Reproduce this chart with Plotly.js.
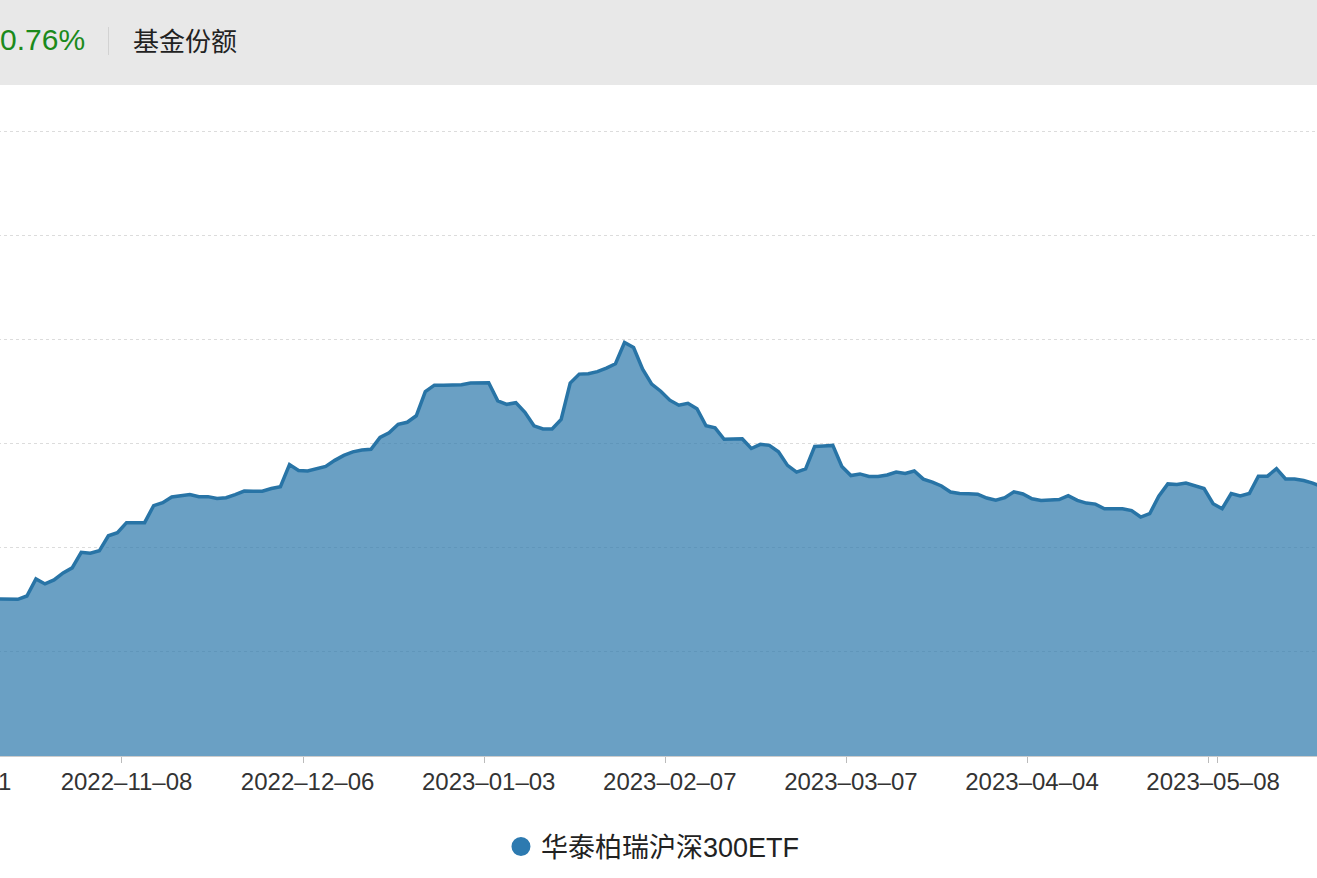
<!DOCTYPE html>
<html>
<head>
<meta charset="utf-8">
<script src="https://cdn.plot.ly/plotly-3.0.1.min.js"></script>
<style>
  html, body { margin:0; padding:0; width:1317px; height:878px; overflow:hidden; background:#ffffff; }
  #chart { position:absolute; left:-300px; top:0; width:1767px; height:950px; }
  #hdr { position:absolute; left:0; top:0; width:1317px; height:85px; background:#e8e8e8; z-index:5; }
  #pct { position:absolute; left:0px; top:22px; font-family:"Liberation Sans", Arial, sans-serif; font-size:30px; line-height:36px; color:#1b8a1b; }
  #sep { position:absolute; left:108px; top:27px; width:1px; height:28px; background:#d2d2d2; }
  #lbl { position:absolute; left:133px; top:21px; font-family:"Noto Sans CJK SC", sans-serif; font-size:26px; line-height:38px; color:#222; }
</style>
</head>
<body>
<div id="chart"></div>
<div id="hdr"><span id="pct">0.76%</span><div id="sep"></div><span id="lbl">基金份额</span></div>
<script>
// trading dates (category axis)
const tradeDates = [
 '2022-10-10','2022-10-11','2022-10-12','2022-10-13','2022-10-14','2022-10-17','2022-10-18','2022-10-19','2022-10-20','2022-10-21','2022-10-24','2022-10-25','2022-10-26','2022-10-27','2022-10-28','2022-10-31',
 '2022-11-01','2022-11-02','2022-11-03','2022-11-04','2022-11-07','2022-11-08','2022-11-09','2022-11-10','2022-11-11','2022-11-14','2022-11-15','2022-11-16','2022-11-17','2022-11-18','2022-11-21','2022-11-22','2022-11-23','2022-11-24','2022-11-25','2022-11-28','2022-11-29','2022-11-30',
 '2022-12-01','2022-12-02','2022-12-05','2022-12-06','2022-12-07','2022-12-08','2022-12-09','2022-12-12','2022-12-13','2022-12-14','2022-12-15','2022-12-16','2022-12-19','2022-12-20','2022-12-21','2022-12-22','2022-12-23','2022-12-26','2022-12-27','2022-12-28','2022-12-29','2022-12-30','2022-12-31',
 '2023-01-03','2023-01-04','2023-01-05','2023-01-06','2023-01-09','2023-01-10','2023-01-11','2023-01-12','2023-01-13','2023-01-16','2023-01-17','2023-01-18','2023-01-19','2023-01-20','2023-01-30','2023-01-31',
 '2023-02-01','2023-02-02','2023-02-03','2023-02-06','2023-02-07','2023-02-08','2023-02-09','2023-02-10','2023-02-13','2023-02-14','2023-02-15','2023-02-16','2023-02-17','2023-02-20','2023-02-21','2023-02-22','2023-02-23','2023-02-24','2023-02-27','2023-02-28',
 '2023-03-01','2023-03-02','2023-03-03','2023-03-06','2023-03-07','2023-03-08','2023-03-09','2023-03-10','2023-03-13','2023-03-14','2023-03-15','2023-03-16','2023-03-17','2023-03-20','2023-03-21','2023-03-22','2023-03-23','2023-03-24','2023-03-27','2023-03-28','2023-03-29','2023-03-30','2023-03-31',
 '2023-04-03','2023-04-04','2023-04-06','2023-04-07','2023-04-10','2023-04-11','2023-04-12','2023-04-13','2023-04-14','2023-04-17','2023-04-18','2023-04-19','2023-04-20','2023-04-21','2023-04-24','2023-04-25','2023-04-26','2023-04-27','2023-04-28',
 '2023-05-04','2023-05-05','2023-05-08','2023-05-09','2023-05-10','2023-05-11','2023-05-12','2023-05-15','2023-05-16','2023-05-17','2023-05-18','2023-05-19','2023-05-22','2023-05-23','2023-05-24'
];

// fund shares (earliest days are outside the visible frame)
const shares = [
 null,null,null,null,null,null,null,75.4,75.4,75.2,76.8,85.0,82.6,84.5,87.9,90.3,
 97.8,97.3,98.5,105.7,107.2,112.0,112.0,112.0,120.2,121.6,124.3,125.0,125.5,124.5,124.5,123.6,124.0,125.5,127.2,127.1,127.1,128.4,
 129.3,139.9,137.0,136.8,137.8,139.0,141.9,144.3,146.0,146.9,147.2,152.9,155.1,159.2,160.2,163.3,174.9,178.0,178.0,178.0,178.2,179.0,179.0,
 179.2,170.5,168.8,169.6,165.0,158.5,157.0,157.0,161.6,179.0,183.3,183.5,184.5,186.2,188.3,198.5,
 196.1,185.7,178.5,175.1,170.8,168.4,169.3,166.7,158.5,157.5,152.0,152.2,152.3,147.6,149.6,149.1,146.0,139.5,136.3,137.8,
 148.6,148.8,149.1,139.0,134.6,135.4,134.2,134.2,134.9,136.3,135.6,136.8,132.9,131.5,129.6,126.7,126.0,125.9,125.7,123.8,122.8,124.0,126.8,
 125.8,123.5,122.7,122.8,123.1,125.0,122.7,121.4,120.9,118.7,118.7,118.7,117.8,114.7,116.3,124.7,130.6,130.3,131.0,
 129.8,128.4,121.1,118.7,126.0,124.8,126.0,134.3,134.3,137.9,133.0,133.0,132.2,131.0,129.3
];

const tickDates = ['2022-10-11','2022-11-08','2022-12-06','2023-01-03','2023-02-07','2023-03-07','2023-04-04','2023-05-08'];
const seriesName = '华泰柏瑞沪深300ETF';
const lineColor = '#2874a6';

const traces = [
  {
    type:'scatter', mode:'lines', x: tradeDates, y: shares, name: seriesName,
    line:{color:lineColor, width:3.5, shape:'linear'},
    fill:'tozeroy', fillcolor:'rgba(43,120,171,0.7)',
    showlegend:false, hoverinfo:'x+y'
  },
  {
    type:'scatter', mode:'markers', x:[null], y:[null], name: seriesName,
    marker:{color:'#2d7ab0', size:16, line:{color:'#2d7ab0', width:3}},
    showlegend:true, hoverinfo:'skip'
  }
];

const layout = {
  width:1767, height:950,
  margin:{l:100, r:50, t:128, b:194, pad:0},
  paper_bgcolor:'#ffffff', plot_bgcolor:'#ffffff',
  font:{family:'"Liberation Sans", Arial, "Noto Sans CJK SC", sans-serif', color:'#333'},
  xaxis:{
    type:'category', categoryorder:'array', categoryarray: tradeDates,
    range:[-15.057, 163.518], automargin:false,
    tickmode:'array', tickvals: tickDates, ticktext: tickDates.map(d => d.replace(/-/g,'\u2013')),
    tickangle:0, ticklabelstandoff:4,
    tickson:'boundaries', ticks:'outside', ticklen:6, tickwidth:1, tickcolor:'#bbbbbb',
    showgrid:false, zeroline:false, showline:true, linecolor:'#cccccc', linewidth:1,
    tickfont:{family:'"Liberation Sans", Arial, sans-serif', size:24, color:'#333'},
    fixedrange:true
  },
  yaxis:{
    range:[0, 301.44], tick0:0, dtick:50, automargin:false,
    showgrid:true, gridcolor:'#dcdcdc', griddash:'dot', gridwidth:1,
    zeroline:false, showline:false, ticks:'', showticklabels:false,
    fixedrange:true
  },
  showlegend:true,
  legend:{
    orientation:'h', x:0.4335, xanchor:'left', y:-0.1449, yanchor:'middle',
    font:{family:'"Liberation Sans", Arial, "Noto Sans CJK SC", sans-serif', size:27, color:'#222'},
    bgcolor:'rgba(0,0,0,0)'
  }
};

Plotly.newPlot('chart', traces, layout, {displayModeBar:false, staticPlot:true});
</script>
</body>
</html>
